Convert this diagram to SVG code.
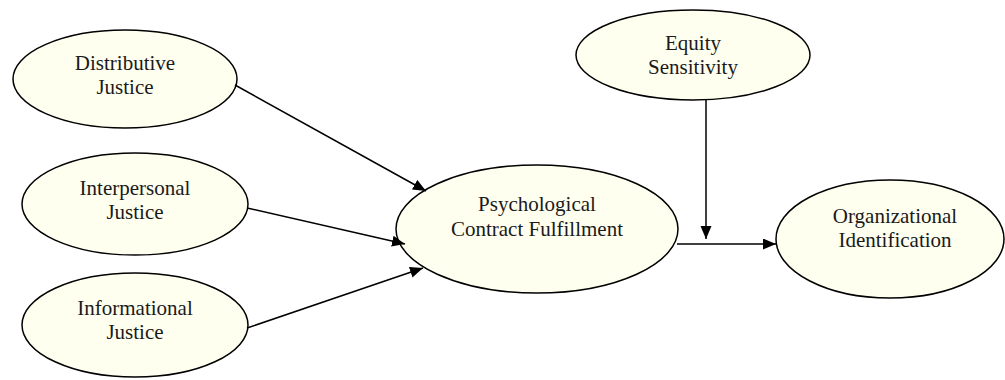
<svg xmlns="http://www.w3.org/2000/svg" width="1005" height="380" viewBox="0 0 1005 380">
<style>
.node ellipse{fill:#FFFFF0;stroke:#000;stroke-width:1.5}
.node text{font-family:"Liberation Serif","Times New Roman",serif;font-size:21px;fill:#1a1a1a;text-anchor:middle}
.edge{stroke:#000;stroke-width:1.5;fill:none}
</style>
<defs>
<marker id="ah" markerUnits="userSpaceOnUse" markerWidth="14" markerHeight="12" refX="13" refY="5.5" orient="auto">
<path d="M0,0 L13,5.5 L0,11 z" fill="#000"/>
</marker>
</defs>
<rect width="1005" height="380" fill="#fff"/>
<g id="n-distributive" class="node">
<ellipse cx="125" cy="79" rx="112" ry="49"/>
<text x="125" y="70">Distributive</text>
<text x="125" y="94">Justice</text>
</g>
<g id="n-interpersonal" class="node">
<ellipse cx="135" cy="204" rx="113" ry="51"/>
<text x="135" y="195">Interpersonal</text>
<text x="135" y="219">Justice</text>
</g>
<g id="n-informational" class="node">
<ellipse cx="135" cy="325" rx="113" ry="52"/>
<text x="135" y="315">Informational</text>
<text x="135" y="339">Justice</text>
</g>
<g id="n-psych" class="node">
<ellipse cx="537" cy="229" rx="141" ry="64"/>
<text x="537" y="211">Psychological</text>
<text x="537" y="236">Contract Fulfillment</text>
</g>
<g id="n-equity" class="node">
<ellipse cx="693" cy="55" rx="117" ry="45"/>
<text x="693" y="50">Equity</text>
<text x="693" y="74">Sensitivity</text>
</g>
<g id="n-org" class="node">
<ellipse cx="890" cy="239" rx="114" ry="59"/>
<text x="895" y="223">Organizational</text>
<text x="895" y="247">Identification</text>
</g>
<g id="connectors">
<line class="edge" x1="235" y1="85" x2="426" y2="191" marker-end="url(#ah)"/>
<line class="edge" x1="247" y1="208" x2="405" y2="244" marker-end="url(#ah)"/>
<line class="edge" x1="247" y1="328" x2="423" y2="268" marker-end="url(#ah)"/>
<line class="edge" x1="706" y1="100" x2="706" y2="239" marker-end="url(#ah)"/>
<line class="edge" x1="677" y1="244" x2="776" y2="244" marker-end="url(#ah)"/>
</g>
</svg>
